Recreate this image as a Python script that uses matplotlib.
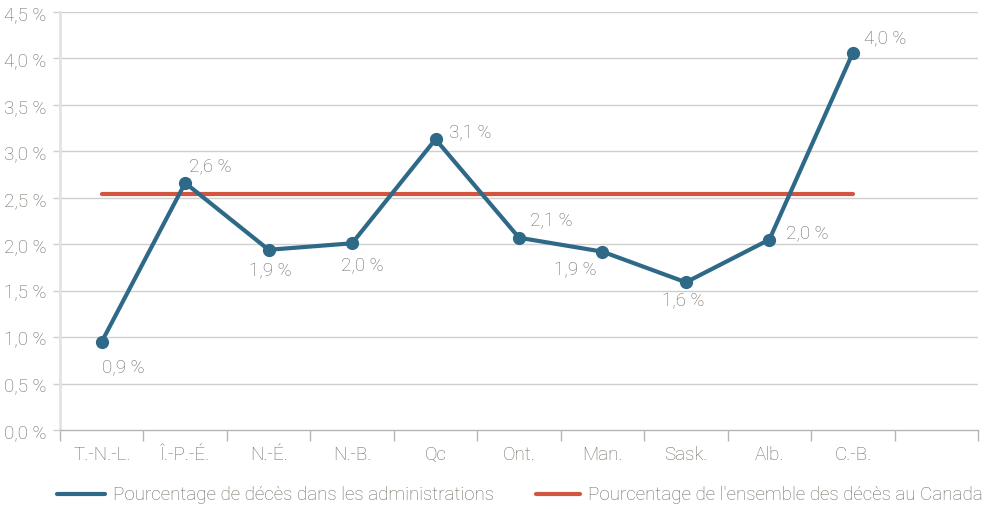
import matplotlib
matplotlib.use("Agg")
import matplotlib.pyplot as plt
import numpy as np

# data
provinces = ["T.-N.-L.", "Î.-P.-É.", "N.-É.", "N.-B.", "Qc", "Ont.", "Man.",
             "Sask.", "Alb.", "C.-B."]
pct_admin = [0.95, 2.66, 1.94, 2.01, 3.13, 2.07, 1.92, 1.59, 2.05, 4.06]
pct_labels = ["0,9 %", "2,6 %", "1,9 %", "2,0 %", "3,1 %", "2,1 %", "1,9 %",
              "1,6 %", "2,0 %", "4,0 %"]
pct_canada = 2.54
y_ticks = [0.0, 0.5, 1.0, 1.5, 2.0, 2.5, 3.0, 3.5, 4.0, 4.5]
y_tick_labels = ["0,0 %", "0,5 %", "1,0 %", "1,5 %", "2,0 %", "2,5 %",
                 "3,0 %", "3,5 %", "4,0 %", "4,5 %"]

# label offsets in pixels (dx, dy)
label_offsets = [(22, -24), (25, 18), (2, -20), (10, -21), (35, 7),
                 (32, 17), (-27, -18), (-3, -18), (38, 7), (32, 16)]

BLUE = "#2e6a88"
RED = "#d2563f"
TEXT = "#6f675f"
FS = 13.5

plt.rcParams['font.family'] = ['Roboto', 'DejaVu Sans']
plt.rcParams['font.weight'] = 'light'

fig = plt.figure(figsize=(9.88, 5.10), dpi=100)
ax = fig.add_axes([60 / 988, 1 - 431 / 510, 918 / 988, 418 / 510])

x = np.arange(len(provinces))
ax.plot(x, pct_admin, color=BLUE, lw=3, marker='o', markersize=8.5,
        solid_joinstyle='round', zorder=3)
ax.plot([x[0], x[-1]], [pct_canada, pct_canada], color=RED, lw=3,
        solid_capstyle='round', zorder=2)

for xi, yi, lab, (dx, dy) in zip(x, pct_admin, pct_labels, label_offsets):
    ax.annotate(lab, (xi, yi), xytext=(dx, dy), textcoords='offset pixels',
                ha='center', va='center', fontsize=FS, color=TEXT)

ax.set_xlim(-0.5, len(provinces) + 0.5)
ax.set_ylim(0, 4.5)
ax.set_yticks(y_ticks)
ax.set_yticklabels(y_tick_labels)
ax.set_xticks(x)
ax.set_xticklabels(provinces)
ax.set_xticks(np.arange(-0.5, len(provinces) + 1.0, 1.0), minor=True)
ax.tick_params(axis='x', which='major', length=0, pad=11, labelsize=FS,
               labelcolor=TEXT)
ax.tick_params(axis='x', which='minor', length=8, width=1, color='#b5b5b5')
ax.tick_params(axis='y', length=5, width=1, color='#cfcfcf', pad=5,
               labelsize=FS, labelcolor=TEXT)

for yv in y_ticks[1:]:
    ax.axhline(yv, color='#cfcfcf', lw=1, zorder=0)

for side in ['top', 'right']:
    ax.spines[side].set_visible(False)
ax.spines['left'].set_color('#e3e3e3')
ax.spines['left'].set_linewidth(2)
ax.spines['bottom'].set_color('#b5b5b5')
ax.spines['bottom'].set_linewidth(1)

# legend drawn manually to match placement
fig.add_artist(plt.Line2D([57 / 988, 105 / 988], [1 - 495 / 510] * 2,
                          color=BLUE, lw=3, solid_capstyle='round'))
fig.text(113 / 988, 1 - 495 / 510, "Pourcentage de décès dans les administrations",
         ha='left', va='center', fontsize=FS, color=TEXT)
fig.add_artist(plt.Line2D([536 / 988, 580 / 988], [1 - 495 / 510] * 2,
                          color=RED, lw=3, solid_capstyle='round'))
fig.text(588 / 988, 1 - 495 / 510, "Pourcentage de l'ensemble des décès au Canada",
         ha='left', va='center', fontsize=FS, color=TEXT)

fig.savefig("out.png", dpi=100)
